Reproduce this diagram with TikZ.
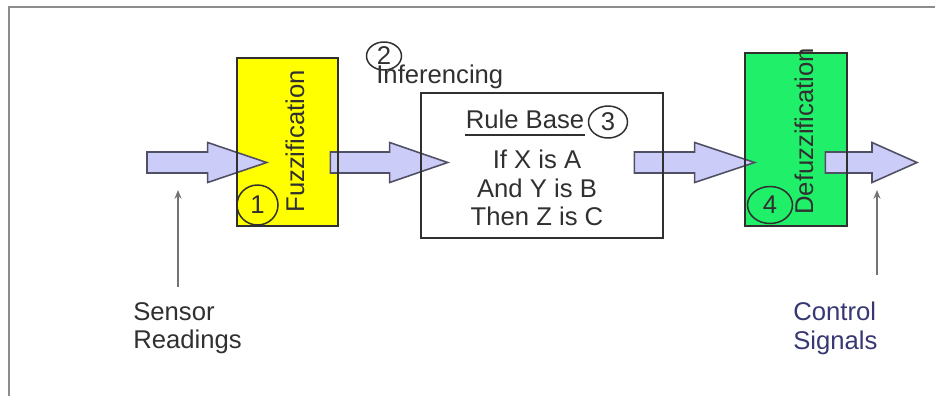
\documentclass[tikz,border=0pt]{standalone}
\usepackage{fontspec}
\setmainfont{Liberation Sans}
\usetikzlibrary{arrows.meta,calc,positioning,shapes.geometric}

\definecolor{fuzzyellow}{RGB}{255,255,0}
\definecolor{defuzzgreen}{RGB}{32,240,105}
\definecolor{flowfill}{RGB}{204,204,248}
\definecolor{flowline}{RGB}{80,80,100}
\definecolor{inkgray}{RGB}{48,48,48}
\definecolor{signalblue}{RGB}{55,55,115}

% fat block arrow: tail, tip, head length (px)
\newcommand{\fatarrow}[3]{%
  \draw[flow] let \p1=(#1), \p2=(#2) in
    (\x1,\y1+0.21cm) -- (\x2-#3*0.02cm,\y1+0.21cm) -- (\x2-#3*0.02cm,\y1+0.4cm)
    -- (\x2,\y1) -- (\x2-#3*0.02cm,\y1-0.4cm) -- (\x2-#3*0.02cm,\y1-0.21cm)
    -- (\x1,\y1-0.21cm) -- cycle;}

\begin{document}
\begin{tikzpicture}[
  x=0.02cm, y=-0.02cm,
  font=\fontsize{14.6}{16}\selectfont, text=inkgray,
  >=Latex,
  stage/.style={inner sep=0pt},
  edge/.style={draw=inkgray, line width=1pt},
  tag/.style={ellipse, draw=inkgray, line width=0.85pt, inner sep=0pt},
  flow/.style={draw=flowline, fill=flowfill, line width=0.9pt, line join=miter},
  pointer/.style={-{Stealth[length=5pt,width=4pt]}, draw=black!55, line width=0.7pt},
  vlabel/.style={rotate=90, anchor=base west, inner sep=0pt},
  plain/.style={inner sep=0pt}
]
  \useasboundingbox (0,0) rectangle (935,396);
  \draw[black!45, line width=1.1pt] (9,396) -- (9,7) -- (935,7);

  % stage boxes (fills first)
  \node[stage, fill=fuzzyellow, minimum width=2.02cm, minimum height=3.36cm] (fuzz) at (287.5,142) {};
  \node[stage, minimum width=4.84cm, minimum height=2.9cm] (rule) at (542,165.5) {};
  \node[stage, fill=defuzzgreen, minimum width=2.04cm, minimum height=3.46cm] (defuzz) at (796,139.5) {};

  % block arrows
  \coordinate (inTail) at (147,162.5);
  \coordinate (outTip) at (917,162.5);
  \fatarrow{inTail}{$(fuzz.west)+(30,0)$}{59}
  \fatarrow{$(fuzz.east |- inTail)+(-8,0)$}{$(rule.west)+(27,0)$}{58}
  \fatarrow{$(rule.east |- inTail)+(-29,0)$}{$(defuzz.west)+(10,0)$}{60}
  \fatarrow{$(defuzz.east |- inTail)+(-22,0)$}{outTip}{45}

  \foreach \stagename in {fuzz,rule,defuzz}
    \draw[edge] (\stagename.north west) rectangle (\stagename.south east);

  % labels
  \node[vlabel] (fuzzText) at (304,213) {Fuzzification};
  \node[vlabel] (defuzzText) at (813,215) {Defuzzification};
  \node[anchor=base west, plain] (inferText) at (376,83) {Inferencing};
  \node[anchor=base, plain] (ruleTitle) at (525,128) {Rule Base};
  \draw[edge, line width=0.8pt] ([yshift=-4pt]ruleTitle.base west) -- ([yshift=-4pt]ruleTitle.base east);
  \node[anchor=north, align=center, plain] (ruleText) at (537,150) {If X is A\\And Y is B\\Then Z is C};

  \node[tag, minimum width=0.82cm, minimum height=0.8cm] (tag1) at (257.5,205) {1};
  \node[tag, minimum width=0.7cm, minimum height=0.56cm] (tag2) at (384,56) {2};
  \node[tag, minimum width=0.78cm, minimum height=0.64cm] (tag3) at (608,122) {3};
  \node[tag, minimum width=0.9cm, minimum height=0.74cm] (tag4) at (770,205) {4};

  % sensor / control pointers
  \coordinate (sensorAim) at (178,190);
  \coordinate (controlAim) at (877,190);
  \node[anchor=north west, align=left, plain] (sensor) at (133,302) {Sensor\\Readings};
  \node[anchor=north west, align=left, plain, text=signalblue] (control) at (793,302) {Control\\Signals};
  \draw[pointer, shorten <=8.5pt] (sensor.north -| sensorAim) -- (sensorAim);
  \draw[pointer, shorten <=15.3pt] (control.north -| controlAim) -- (controlAim);
\end{tikzpicture}
\end{document}
